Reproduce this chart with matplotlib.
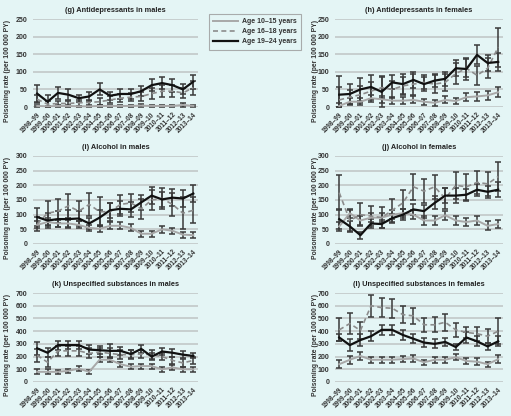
import numpy as np
import matplotlib
matplotlib.use("Agg")
import matplotlib.pyplot as plt
from matplotlib.lines import Line2D

W, H = 511, 416
BG = "#e4f5f5"

years = ["1998–99", "1999–00", "2000–01", "2001–02", "2002–03", "2003–04",
         "2004–05", "2005–06", "2006–07", "2007–08", "2008–09", "2009–10",
         "2010–11", "2011–12", "2012–13", "2013–14"]

# (g) antidepressants, males
g_1015 = [3, 2, 3, 3, 2, 2, 3, 3, 3, 3, 4, 3, 3, 3, 6, 3]
g_1015_err = [3, 2, 3, 3, 2, 2, 3, 3, 3, 3, 4, 3, 3, 3, 5, 4]
g_1618 = [22, 8, 10, 10, 12, 13, 15, 20, 25, 28, 30, 38, 45, 45, 40, 55]
g_1618_err = [12, 8, 8, 8, 8, 8, 10, 10, 12, 12, 12, 15, 18, 18, 15, 20]
g_1924 = [38, 15, 40, 35, 25, 30, 50, 32, 37, 37, 45, 62, 68, 62, 50, 72]
g_1924_err = [25, 18, 18, 15, 10, 13, 17, 12, 15, 15, 15, 17, 18, 18, 14, 20]

# (h) antidepressants, females
h_1015 = [3, 15, 15, 25, 22, 18, 18, 20, 15, 12, 20, 17, 28, 30, 33, 42]
h_1015_err = [8, 10, 10, 10, 10, 10, 10, 10, 8, 8, 10, 8, 12, 12, 12, 15]
h_1618 = [20, 28, 35, 45, 55, 50, 60, 65, 70, 65, 70, 95, 110, 90, 110, 170]
h_1618_err = [38, 20, 25, 25, 30, 25, 25, 30, 20, 25, 25, 30, 25, 27, 28, 55]
h_1924 = [35, 37, 50, 57, 43, 70, 65, 77, 65, 75, 80, 110, 108, 148, 125, 128]
h_1924_err = [52, 28, 32, 35, 45, 20, 28, 23, 20, 18, 20, 23, 32, 27, 23, 25]

# (i) alcohol, males
i_1015 = [65, 75, 70, 70, 65, 55, 52, 62, 62, 55, 35, 35, 50, 45, 32, 30]
i_1015_err = [12, 12, 12, 12, 12, 10, 10, 12, 12, 12, 10, 10, 12, 10, 10, 10]
i_1618 = [68, 105, 112, 130, 112, 135, 110, 110, 135, 140, 120, 150, 155, 135, 105, 115]
i_1618_err = [25, 40, 42, 40, 35, 38, 50, 30, 32, 30, 35, 35, 35, 40, 55, 45]
i_1924 = [92, 80, 85, 85, 87, 70, 90, 115, 120, 118, 142, 165, 152, 158, 155, 172]
i_1924_err = [30, 25, 28, 30, 25, 20, 25, 25, 25, 25, 25, 28, 25, 28, 28, 30]

# (j) alcohol, females
j_1015 = [60, 105, 80, 90, 90, 100, 105, 100, 80, 80, 98, 80, 75, 80, 62, 68]
j_1015_err = [15] * 16
j_1618 = [175, 80, 100, 95, 90, 115, 140, 195, 180, 195, 155, 200, 195, 210, 205, 230]
j_1618_err = [60, 35, 40, 35, 35, 40, 45, 45, 40, 40, 35, 45, 45, 40, 40, 50]
j_1924 = [85, 60, 30, 70, 68, 88, 100, 118, 112, 140, 165, 165, 168, 185, 178, 185]
j_1924_err = [35, 18, 12, 15, 15, 15, 18, 20, 22, 22, 25, 25, 20, 20, 20, 25]

# (k) unspecified substances, males
k_1015 = [80, 80, 80, 88, 105, 80, 175, 175, 140, 120, 125, 125, 100, 115, 100, 100]
k_1015_err = [20, 20, 15, 15, 20, 15, 20, 20, 20, 20, 20, 20, 20, 20, 20, 20]
k_1618 = [210, 155, 245, 245, 245, 225, 235, 225, 215, 215, 220, 215, 200, 170, 150, 170]
k_1618_err = [50, 40, 40, 40, 40, 40, 35, 40, 35, 35, 35, 35, 30, 30, 30, 30]
k_1924 = [265, 230, 290, 290, 290, 255, 250, 245, 245, 220, 260, 200, 240, 230, 215, 205]
k_1924_err = [50, 35, 35, 30, 30, 35, 30, 55, 30, 30, 30, 30, 25, 30, 25, 20]

# (l) unspecified substances, females
l_1015 = [140, 175, 205, 175, 175, 175, 180, 185, 155, 175, 175, 195, 165, 160, 140, 180]
l_1015_err = [30, 30, 30, 25, 25, 25, 25, 25, 20, 25, 25, 25, 25, 25, 20, 30]
l_1618 = [410, 460, 405, 600, 585, 580, 530, 520, 450, 450, 470, 410, 390, 380, 360, 400]
l_1618_err = [90, 80, 70, 85, 75, 75, 65, 65, 55, 60, 65, 55, 45, 55, 55, 100]
l_1924 = [350, 290, 330, 360, 410, 410, 370, 340, 310, 300, 315, 275, 350, 320, 280, 320]
l_1924_err = [30, 45, 45, 40, 40, 40, 40, 35, 35, 35, 35, 25, 45, 40, 30, 40]

panels = [
    ("(g) Antidepressants in males", g_1015, g_1015_err, g_1618, g_1618_err, g_1924, g_1924_err, 250, 50),
    ("(h) Antidepressants in females", h_1015, h_1015_err, h_1618, h_1618_err, h_1924, h_1924_err, 250, 50),
    ("(i) Alcohol in males", i_1015, i_1015_err, i_1618, i_1618_err, i_1924, i_1924_err, 300, 50),
    ("(j) Alcohol in females", j_1015, j_1015_err, j_1618, j_1618_err, j_1924, j_1924_err, 300, 50),
    ("(k) Unspecified substances in males", k_1015, k_1015_err, k_1618, k_1618_err, k_1924, k_1924_err, 700, 100),
    ("(l) Unspecified substances in females", l_1015, l_1015_err, l_1618, l_1618_err, l_1924, l_1924_err, 700, 100),
]

# axes boxes in pixels: left, right, top (ymax), bottom (0)
cols = [(33, 198), (335, 503)]
rows = [(19, 107), (156, 244), (293, 382)]
ylabel_x = [8, 315]

plt.rcParams["font.family"] = ["Liberation Sans", "DejaVu Sans"]
FS = 4.7
fig = plt.figure(figsize=(W / 100, H / 100), dpi=100, facecolor=BG)

x = np.arange(len(years))
for n, (title, a, ae, b, be, c, ce, ymax, step) in enumerate(panels):
    r, col = divmod(n, 2)
    l, rt = cols[col]
    t, bt = rows[r]
    ax = fig.add_axes([l / W, 1 - bt / H, (rt - l) / W, (bt - t) / H])
    ax.set_facecolor(BG)
    ax.set_ylim(0, ymax)
    ax.set_xlim(-0.4, 15.45)
    for s in ax.spines.values():
        s.set_visible(False)
    ax.set_yticks(np.arange(0, ymax + 1, step))
    ax.yaxis.grid(True, color="#c4cccc", lw=1.3)
    ax.set_axisbelow(True)
    ax.tick_params(length=0, labelsize=FS + 0.3, pad=4)
    for lab in ax.get_yticklabels():
        lab.set_fontweight("bold")
        lab.set_color("#333333")
    ax.set_xticks(x)
    ax.set_xticklabels(years, rotation=45, ha="right", rotation_mode="anchor",
                       fontsize=FS, fontweight="bold", color="#333333")
    ax.tick_params(axis="x", pad=3)

    series = [(a, ae, "#a8a8a8", "-", 1.4, 3),
              (b, be, "#8c8c8c", (0, (3, 2)), 1.2, 3),
              (c, ce, "#111111", "-", 1.6, 4)]
    for vals, err, colr, ls, lw, z in series:
        vals = np.array(vals, float)
        err = np.array(err, float)
        yerr = np.vstack([np.minimum(err, vals), err])
        ax.errorbar(x, vals, yerr=yerr, fmt="none", ecolor="#3a3a3a",
                    elinewidth=1.1, capsize=2.2, capthick=1.1, zorder=2, clip_on=False)
        ax.plot(x, vals, color=colr, ls=ls, lw=lw, zorder=z, clip_on=False)

    ax.set_title(title, fontsize=FS + 0.6, fontweight="bold", color="#222222", pad=5)
    fig.text(ylabel_x[col] / W, 1 - ((t + bt) / 2 + 8) / H, "Poisoning rate (per 100 000 PY)",
             rotation=90, ha="center", va="center", fontsize=FS + 0.2, fontweight="bold",
             color="#333333")

handles = [Line2D([], [], color="#a8a8a8", lw=1.4),
           Line2D([], [], color="#8c8c8c", lw=1.2, ls=(0, (3, 2))),
           Line2D([], [], color="#111111", lw=1.6)]
labels = ["Age 10–15 years", "Age 16–18 years", "Age 19–24 years"]
leg = fig.legend(handles, labels, loc="upper left", bbox_to_anchor=(209 / W, 1 - 14 / H),
                 fontsize=FS + 0.3, frameon=True, fancybox=False, edgecolor="#999999",
                 facecolor=BG, handlelength=3.6, borderpad=0.6, labelspacing=0.45,
                 handletextpad=0.5, borderaxespad=0)
leg.get_frame().set_linewidth(0.8)
for tx in leg.get_texts():
    tx.set_fontweight("bold")
    tx.set_color("#333333")

fig.savefig("out.png", dpi=100, facecolor=BG)
